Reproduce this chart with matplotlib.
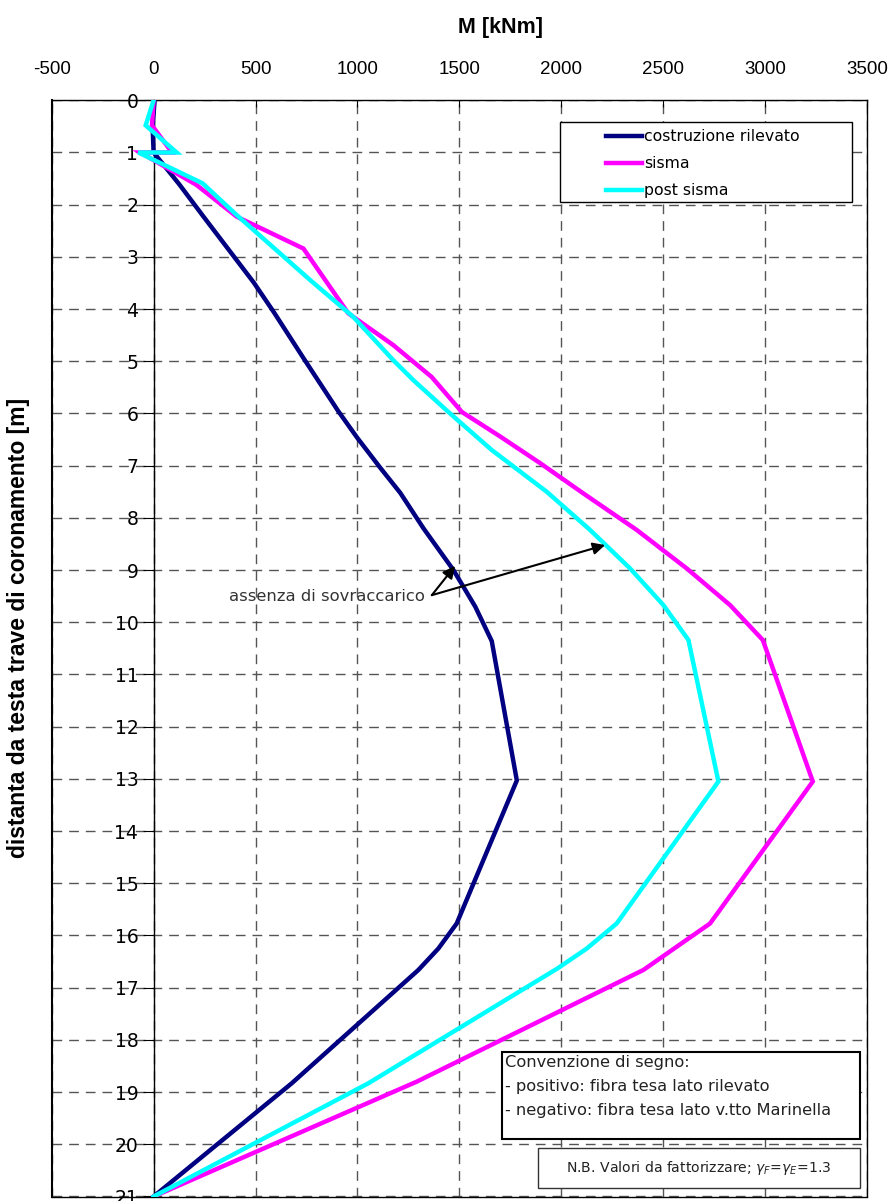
import matplotlib
matplotlib.use("Agg")
import matplotlib.pyplot as plt
from matplotlib.patches import Rectangle
from matplotlib.lines import Line2D

plt.rcParams["axes.unicode_minus"] = False

# ---------------- data ----------------
depth_cr = [0, 0.5, 1.0, 1.6, 2.24, 3.49, 4.06, 4.95, 5.95, 6.46, 7.04, 7.52, 8.2, 9.0,
            9.7, 10.36, 13.03, 15.77, 16.25, 16.66, 18.83, 21]
m_cr = [5, -5, 0, 124, 247, 491, 590, 737, 905, 998, 1112, 1210, 1324, 1471,
        1578, 1659, 1782, 1487, 1397, 1299, 678, 0]

depth_s = [0, 0.48, 1.0, 1.0, 1.62, 2.23, 2.84, 4.08, 4.69, 5.3, 5.97, 6.44, 6.95, 7.53,
           8.23, 8.97, 9.67, 10.34, 13.05, 15.77, 16.66, 18.8, 21]
m_s = [0, -8, 90, -65, 210, 408, 735, 955, 1176, 1364, 1512, 1700, 1896, 2108,
       2370, 2616, 2828, 2989, 3234, 2730, 2403, 1291, 0]

depth_p = [0, 0.48, 1.0, 1.0, 1.59, 2.2, 3.44, 4.15, 4.98, 5.36, 5.97, 6.7, 7.5, 8.23,
           8.97, 9.67, 10.34, 13.05, 15.77, 16.25, 16.63, 18.83, 21]
m_p = [0, -39, 113, -75, 240, 408, 767, 980, 1176, 1274, 1446, 1659, 1929, 2141,
       2338, 2501, 2624, 2771, 2272, 2125, 1982, 1054, 0]

series_labels = ["costruzione rilevato", "sisma", "post sisma"]
series_colors = ["#000080", "#FF00FF", "#00FFFF"]

x_ticks = [-500, 0, 500, 1000, 1500, 2000, 2500, 3000, 3500]
y_ticks = list(range(0, 22))

annot_text = "assenza di sovraccarico"
annot_text_pos = (1332, 9.5)
annot_tail = (1365, 9.48)
annot_targets = [(1479, 8.92), (2215, 8.52)]

# ---------------- figure ----------------
W, H = 892, 1201
fig = plt.figure(figsize=(W / 100, H / 100), dpi=100)
ax_l, ax_r, ax_t, ax_b = 51.7, 867.0, 100.3, 1196.5
ax = fig.add_axes([ax_l / W, 1 - ax_b / H, (ax_r - ax_l) / W, (ax_b - ax_t) / H])

tick_font = "Liberation Sans"
note_font = "DejaVu Sans"

for d, m, c, lab in zip([depth_cr, depth_s, depth_p], [m_cr, m_s, m_p],
                        series_colors, series_labels):
    ax.plot(m, d, color=c, lw=3.2, label=lab, solid_joinstyle="miter", zorder=3)

ax.set_xlim(-500, 3500)
ax.set_ylim(21, 0)
ax.set_xticks(x_ticks)
ax.set_yticks(y_ticks)

ax.grid(True, color="#555555", lw=1.0, linestyle=(0, (7, 5)), zorder=1)
ax.set_axisbelow(True)

ax.xaxis.set_ticks_position("top")
ax.xaxis.set_label_position("top")
ax.tick_params(axis="x", direction="in", length=5, pad=16, labelsize=13.5,
               top=True, bottom=False)
ax.tick_params(axis="y", direction="out", length=8, pad=3, labelsize=13.5)
for lbl in ax.get_xticklabels() + ax.get_yticklabels():
    lbl.set_fontfamily(tick_font)

ax.spines["left"].set_position(("data", 0))
for s in ax.spines.values():
    s.set_linewidth(1.0)
    s.set_color("black")
ax.axvline(-500, color="black", lw=1.5, clip_on=False, zorder=4)

fig.text(501 / W, 1 - 27 / H, "M [kNm]", ha="center", va="center",
         fontsize=15.5, fontweight="bold", family=tick_font)
fig.text(19 / W, 1 - 628 / H, "distanta da testa trave di coronamento [m]",
         rotation=90, ha="center", va="center", fontsize=16.5,
         fontweight="bold", family=tick_font)

# annotation
ax.text(annot_text_pos[0], annot_text_pos[1], annot_text, ha="right", va="center",
        fontsize=11.8, color="#333333", family=note_font, zorder=5)
for tgt in annot_targets:
    ax.annotate("", xy=tgt, xytext=annot_tail,
                arrowprops=dict(arrowstyle="-|>", color="black", lw=1.5,
                                mutation_scale=18, shrinkA=0, shrinkB=0), zorder=5)


def axfrac(px, py):
    return (px - ax_l) / (ax_r - ax_l), 1 - (py - ax_t) / (ax_b - ax_t)


# legend (box drawn separately to match the wide Excel-style frame)
x0, y1 = axfrac(560, 122)
x1, y0 = axfrac(852, 202)
ax.add_patch(Rectangle((x0, y0), x1 - x0, y1 - y0, transform=ax.transAxes,
                       facecolor="white", edgecolor="black", lw=1.0, zorder=6))
handles = [Line2D([], [], color=c, lw=3.2) for c in series_colors]
lx, ly = axfrac(606, 129)
leg = ax.legend(handles, series_labels, loc="upper left", bbox_to_anchor=(lx, ly),
                frameon=False, borderpad=0, borderaxespad=0, handlelength=2.3,
                handletextpad=0.15, labelspacing=0.78,
                prop={"family": note_font, "size": 11.3})
leg.set_zorder(7)

# sign convention box
bx0, by1 = axfrac(502, 1052)
bx1, by0 = axfrac(860, 1139)
ax.add_patch(Rectangle((bx0, by0), bx1 - bx0, by1 - by0, transform=ax.transAxes,
                       facecolor="white", edgecolor="black", lw=1.5, zorder=6))
conv_lines = ["Convenzione di segno:",
              "- positivo: fibra tesa lato rilevato",
              "- negativo: fibra tesa lato v.tto Marinella"]
for i, t in enumerate(conv_lines):
    tx, ty = axfrac(505, 1062 + 24.5 * i)
    ax.text(tx, ty, t, transform=ax.transAxes, ha="left", va="center",
            fontsize=11.7, color="#222222", family=note_font, zorder=7)

# N.B. box
nx0, ny1 = axfrac(538, 1148)
nx1, ny0 = axfrac(860, 1188)
ax.add_patch(Rectangle((nx0, ny0), nx1 - nx0, ny1 - ny0, transform=ax.transAxes,
                       facecolor="white", edgecolor="#333333", lw=1.0, zorder=6))
tx, ty = axfrac(699, 1168)
ax.text(tx, ty, r"N.B. Valori da fattorizzare; $\gamma_F$=$\gamma_E$=1.3",
        transform=ax.transAxes, ha="center", va="center", fontsize=10.1,
        color="#222222", family=note_font, zorder=7)

fig.savefig("out.png", dpi=100)
